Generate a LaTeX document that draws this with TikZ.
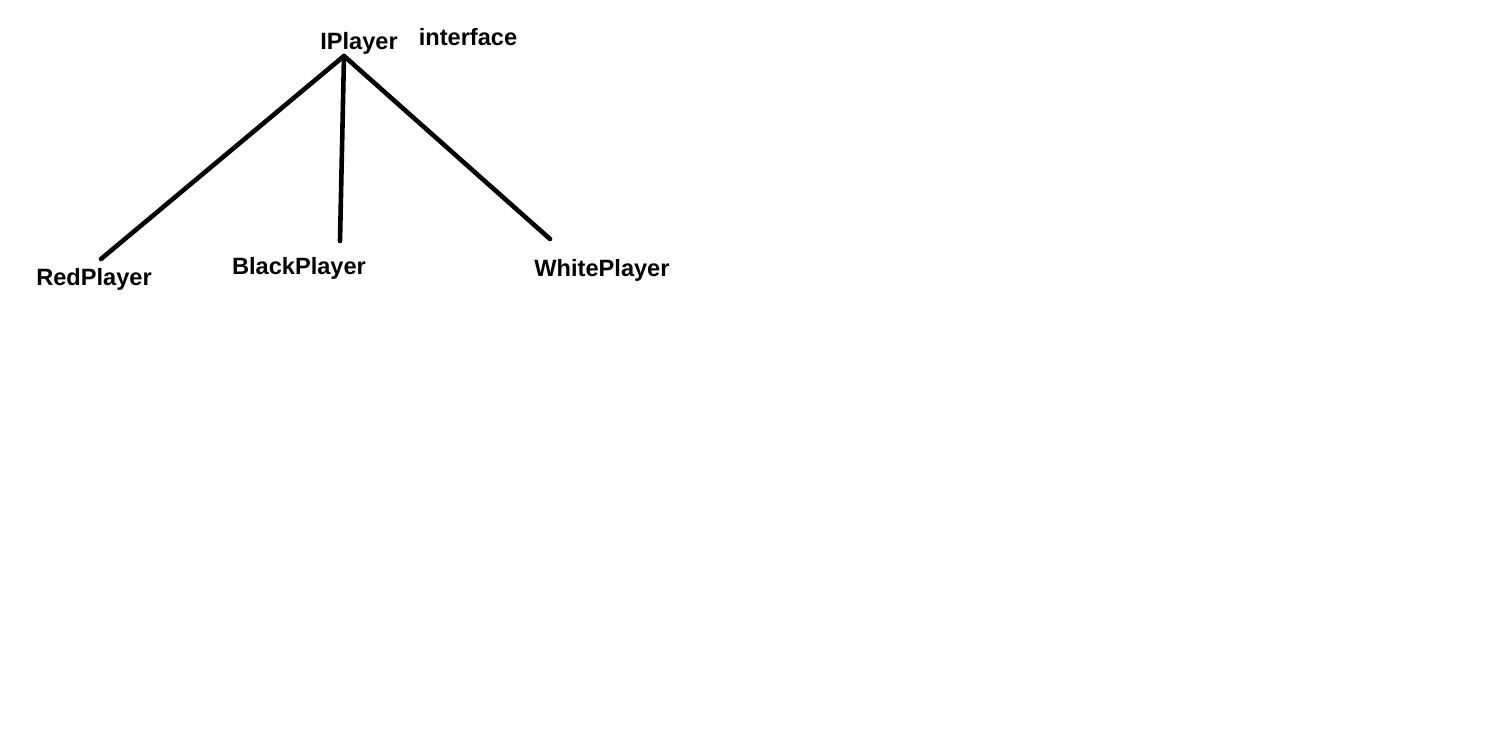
\documentclass[tikz,border=0pt]{standalone}
\usepackage{fontspec}
\setmainfont{Liberation Sans}
\begin{document}
\begin{tikzpicture}[x=0.5pt,y=-0.5pt,
  lbl/.style={font=\fontsize{11.8}{13}\selectfont\bfseries, inner sep=0pt, text=black},
  link/.style={line width=2.3pt, line cap=round, black}]
\useasboundingbox[fill=white] (0,0) rectangle (1508,742);
\node[lbl] (iplayer) at (359,43) {IPlayer};
\node[lbl] (iface) at (468,37) {interface};
\node[lbl] (red) at (94,279) {RedPlayer};
\node[lbl] (black) at (299,268) {BlackPlayer};
\node[lbl] (white) at (602,270) {WhitePlayer};
\coordinate (apex) at (344,56);
\coordinate (redend) at (101,259);
\coordinate (blackend) at (340,241);
\coordinate (whiteend) at (550,239);
\draw[link] (apex) -- (redend);
\draw[link] (apex) -- (blackend);
\draw[link] (apex) -- (whiteend);
\end{tikzpicture}
\end{document}
